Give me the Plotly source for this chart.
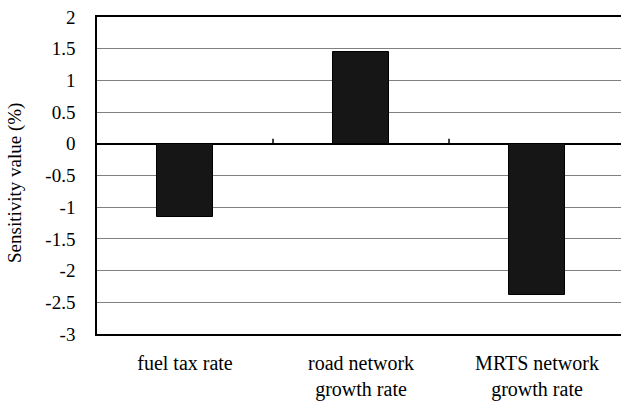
import plotly.graph_objects as go

categories = ["fuel tax rate", "road network<br>growth rate", "MRTS network<br>growth rate"]
values = [-1.16, 1.45, -2.38]
y_ticks = [2, 1.5, 1, 0.5, 0, -0.5, -1, -1.5, -2, -2.5, -3]
y_tick_labels = ["2", "1.5", "1", "0.5", "0", "-0.5", "-1", "-1.5", "-2", "-2.5", "-3"]
y_title = "Sensitivity value (%)"
x_pos = list(range(len(categories)))

FONT = "Liberation Serif"

fig = go.Figure()
fig.add_trace(go.Bar(
    x=x_pos, y=values, width=0.32,
    marker=dict(color="#161616", line=dict(color="#000000", width=1)),
    showlegend=False,
))

# category separators (ticks) on the zero axis
for sep in [0.5, 1.5]:
    fig.add_shape(type="line", xref="x", yref="y", x0=sep, x1=sep, y0=0, y1=0.08,
                  line=dict(color="#000000", width=1.5))

fig.add_annotation(
    text=y_title, textangle=-90, showarrow=False,
    xref="paper", yref="paper", x=0, y=(334 - 183) / 317,
    xanchor="center", yanchor="middle", xshift=-82,
    font=dict(family=FONT, size=19, color="#000000"),
)

fig.update_layout(
    width=621, height=404,
    margin=dict(l=97, r=0, t=17, b=70, autoexpand=False),
    plot_bgcolor="white", paper_bgcolor="white",
    font=dict(family=FONT, color="#000000", size=19),
    bargap=0,
)
fig.update_xaxes(
    range=[-0.5, -0.5 + 524 / 176],
    tickmode="array", tickvals=x_pos, ticktext=categories,
    ticks="", showgrid=False, zeroline=False,
    showline=True, linecolor="#000000", linewidth=1.5, mirror=True,
    tickfont=dict(family=FONT, size=20),
    ticklabelstandoff=10, automargin=False,
)
fig.update_yaxes(
    range=[-3, 2],
    tickmode="array", tickvals=y_ticks, ticktext=y_tick_labels,
    ticks="", showgrid=True, gridcolor="#808080", gridwidth=1,
    zeroline=True, zerolinecolor="#000000", zerolinewidth=1.5,
    showline=True, linecolor="#000000", linewidth=1.5,
    tickfont=dict(family=FONT, size=19),
    ticklabelstandoff=16, automargin=False,
)

fig.write_html("out.html", config={"displayModeBar": False},
               post_script="document.body.style.margin='0';document.body.style.overflow='hidden';")
